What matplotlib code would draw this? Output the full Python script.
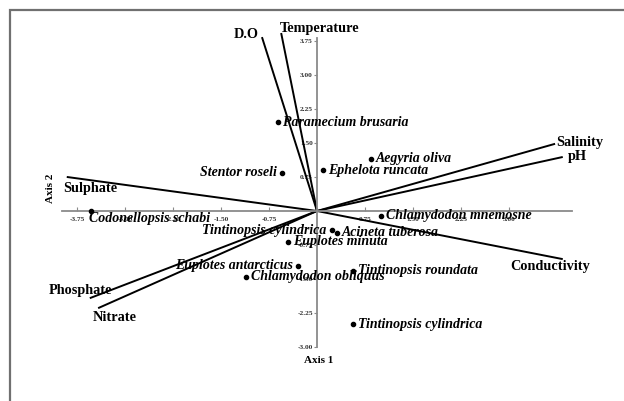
import numpy as np
import matplotlib
matplotlib.use("Agg")
from matplotlib import pyplot as plt
from matplotlib.patches import Rectangle

plt.rcParams['font.family'] = ['Liberation Serif', 'DejaVu Serif']

# environmental vectors (biplot arrows)
env_names = ["D.O", "Temperature", "Salinity", "pH", "Sulphate",
             "Conductivity", "Phosphate", "Nitrate"]
env_x = [-0.86, -0.56, 3.72, 3.84, -3.91, 3.84, -3.55, -3.42]
env_y = [3.83, 3.92, 1.48, 1.19, 0.75, -1.06, -1.92, -2.14]

# species scores
sp_names = ["Paramecium brusaria", "Stentor roseli", "Aegyria oliva",
            "Ephelota runcata", "Codonellopsis schabi", "Chlamydodon mnemosne",
            "Tintinopsis cylindrica", "Acineta tuberosa", "Euplotes minuta",
            "Euplotes antarcticus", "Chlamydodon obliquus",
            "Tintinopsis roundata", "Tintinopsis cylindrica"]
sp_x = [-0.61, -0.55, 0.84, 0.09, -3.53, 1.00, 0.23, 0.31, -0.45,
        -0.30, -1.11, 0.56, 0.56]
sp_y = [1.96, 0.84, 1.15, 0.90, 0.00, -0.11, -0.42, -0.48, -0.68,
        -1.21, -1.45, -1.32, -2.49]

xticks = [-3.75, -3.00, -2.25, -1.50, -0.75, 0.75, 1.50, 2.25, 3.00]
yticks = [-3.00, -2.25, -1.50, -0.75, 0.75, 1.50, 2.25, 3.00, 3.75]

fig = plt.figure(figsize=(6.24, 4.01), dpi=100)
fig.patches.append(Rectangle((10/624, -0.1), 1.2, 1 - 10/401 + 0.1,
                             transform=fig.transFigure, fill=False,
                             edgecolor='#707070', linewidth=1.6))
ax = fig.add_axes([0, 0, 1, 1])
ax.set_xlim(-317/64, (624-317)/64)
ax.set_ylim(-(401-211)/45.4, 211/45.4)
ax.patch.set_alpha(0)

# spines through the origin
for s in ['top', 'right']:
    ax.spines[s].set_visible(False)
ax.spines['left'].set_position(('data', 0))
ax.spines['bottom'].set_position(('data', 0))
ax.spines['left'].set_bounds(-3.0, 3.8)
ax.spines['bottom'].set_bounds(-3.98, 3.98)
for s in ['left', 'bottom']:
    ax.spines[s].set_color('#8a8a8a')
    ax.spines[s].set_linewidth(1.3)
ax.set_xticks(xticks)
ax.set_yticks(yticks)
ax.set_xticklabels([f"{t:.2f}" for t in xticks])
ax.set_yticklabels([f"{t:.2f}" for t in yticks])
ax.tick_params(axis='x', direction='in', length=3, width=0.8, color='#8a8a8a',
               labelsize=5.3, pad=4)
ax.tick_params(axis='y', direction='out', length=2, width=0.8, color='#8a8a8a',
               labelsize=5.3, pad=1)
for lab in ax.get_xticklabels() + ax.get_yticklabels():
    lab.set_fontweight('bold')
    lab.set_color('#333333')

# arrows
for x, y in zip(env_x, env_y):
    ax.plot([0, x], [0, y], color='black', linewidth=1.4, solid_capstyle='butt')

env_style = dict(fontsize=10.3, fontweight='bold', color='black')
ax.text(env_x[0] - 0.05, env_y[0] + 0.05, env_names[0], ha='right', va='center', **env_style)
ax.text(env_x[1] - 0.02, env_y[1] + 0.11, env_names[1], ha='left', va='center', **env_style)
ax.text(env_x[2] + 0.02, env_y[2] + 0.02, env_names[2], ha='left', va='center', **env_style)
ax.text(env_x[3] + 0.08, env_y[3], env_names[3], ha='left', va='center', **env_style)
ax.text(env_x[4] - 0.05, env_y[4] - 0.26, env_names[4], ha='left', va='center', **env_style)
ax.text(env_x[5] - 0.2, env_y[5] - 0.16, env_names[5], ha='center', va='center', **env_style)
ax.text(env_x[6] + 0.35, env_y[6] + 0.17, env_names[6], ha='right', va='center', **env_style)
ax.text(env_x[7] - 0.08, env_y[7] - 0.2, env_names[7], ha='left', va='center', **env_style)

# species points
ax.scatter(sp_x, sp_y, s=9, color='black', zorder=3)
left_side = {1, 6, 9}
sp_style = dict(fontsize=10, fontweight='bold', style='italic', color='black')
for i, (name, x, y) in enumerate(zip(sp_names, sp_x, sp_y)):
    if i == 4:
        ax.text(x - 0.04, y - 0.17, name, ha='left', va='center', **sp_style)
    elif i in left_side:
        ax.text(x - 0.08, y, name, ha='right', va='center', **sp_style)
    else:
        ax.text(x + 0.08, y, name, ha='left', va='center', **sp_style)

ax.text(-4.16, 0.5, "Axis 2", rotation=90, ha='center', va='center',
        fontsize=8, fontweight='bold')
ax.text(0.02, -3.3, "Axis 1", ha='center', va='center',
        fontsize=8, fontweight='bold')

fig.savefig("out.png", dpi=100)
